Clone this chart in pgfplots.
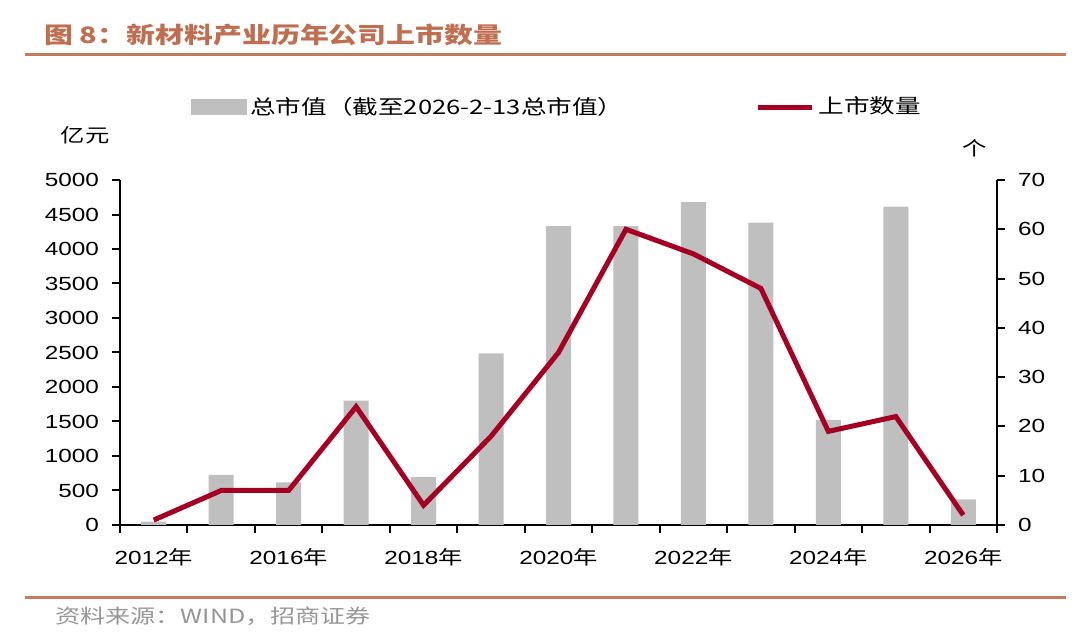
\documentclass[border=0pt]{standalone}
\usepackage{fontspec}
\usepackage{pgfplots}
\pgfplotsset{compat=1.18}
\setmainfont{Liberation Sans}[FakeStretch=1.28]
\newfontfamily\cjk{Noto Sans CJK SC}[FakeStretch=1.28]
\definecolor{bargray}{RGB}{191,191,191}
\definecolor{linered}{RGB}{165,0,33}
\definecolor{titlec}{RGB}{192,110,80}
\definecolor{rulec}{RGB}{200,122,95}
\definecolor{srcgray}{RGB}{150,150,150}
\newcommand\fs{\fontsize{9.5}{11}\selectfont}

\pgfplotstableread{
x cap num
0 48 1
1 725 7
2 619 7
3 1802 24
4 696 4
5 2488 18
6 4333 35
7 4333 60
8 4681 55
9 4381 48
10 1522 19
11 4613 22
12 372 2
}\data

\pgfplotsset{
  base/.style={
    scale only axis, width=438.5pt, height=172.5pt,
    at={(60pt,57.5pt)}, anchor=south west,
    xmin=-0.5, xmax=12.5,
    tick align=outside,
    tick label style={font=\fs},
    /pgf/number format/assume math mode=true,
    /pgf/number format/1000 sep={},
    axis line style={line width=1pt, -},
    major tick style={line width=1pt, black},
    minor tick style={line width=1pt, black},
    major tick length=4pt, minor tick length=4pt,
  }
}

\begin{document}
\begin{tikzpicture}
\path[use as bounding box] (0,0) rectangle (540pt,320pt);
\node[anchor=west, text=titlec, font=\cjk\bfseries\fontsize{11.3}{13}\selectfont, inner sep=0] at (22pt,302.5pt) {图 8：新材料产业历年公司上市数量};
\draw[rulec, line width=1.5pt] (12.5pt,292.5pt) -- (533pt,292.5pt);
\draw[rulec, line width=1.5pt] (12.5pt,21pt) -- (533pt,21pt);
\node[anchor=west, text=srcgray, font=\cjk\fontsize{9.8}{11}\selectfont, inner sep=0] at (27.5pt,12pt) {资料来源：WIND，招商证券};
\node[font=\cjk\fs] at (42.5pt,252.5pt) {亿元};
\node[font=\cjk\fs] at (487.5pt,246pt) {个};

\begin{axis}[base,
  axis x line*=bottom, axis y line*=left,
  ymin=0, ymax=5000, ytick={0,500,...,5000},
  yticklabel style={xshift=-3pt},
  xtick={0,2,...,12},
  xticklabels={{2012{\cjk 年}},{2016{\cjk 年}},{2018{\cjk 年}},{2020{\cjk 年}},{2022{\cjk 年}},{2024{\cjk 年}},{2026{\cjk 年}}},
  major x tick style={draw=none},
  minor xtick={-0.5,0.5,...,12.5},
  xticklabel style={yshift=-4pt},
]
\addplot[ybar, bar width=12.5pt, fill=bargray, draw=none] table[x=x, y=cap] {\data};
\end{axis}

\begin{axis}[base,
  axis x line=none, axis y line*=right,
  ymin=0, ymax=70, ytick={0,10,...,70},
  yticklabel style={xshift=3pt},
  legend columns=2,
  legend cell align=left,
  legend style={draw=none, fill=none, inner sep=0pt,
    at={(0.08,1.2116)}, anchor=west, font=\cjk\fontsize{10}{12}\selectfont,
    nodes={inner xsep=2pt},
    /tikz/every even column/.append style={column sep=64pt}},
]
\addlegendimage{legend image code/.code={\fill[bargray] (0pt,-3.75pt) rectangle (27.5pt,3.75pt);}}
\addlegendentry{总市值（截至2026-2-13总市值）}
\addplot[linered, line width=2.5pt, legend image code/.code={\draw[linered, line width=2.5pt] (0pt,0pt) -- (27pt,0pt);}] table[x=x, y=num] {\data};
\addlegendentry{上市数量}
\end{axis}
\end{tikzpicture}
\end{document}
